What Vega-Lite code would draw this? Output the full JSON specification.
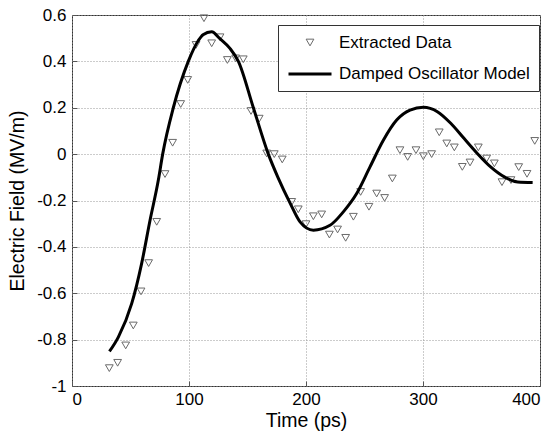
{
  "$schema": "https://vega.github.io/schema/vega-lite/v6.json",
  "width": 468,
  "height": 371,
  "autosize": {"type": "none"},
  "padding": {"left": 72, "top": 15, "right": 18, "bottom": 48},
  "background": "white",
  "config": {
    "font": "Liberation Sans",
    "view": {"stroke": "#333", "strokeWidth": 1},
    "axis": {
      "grid": true,
      "gridDash": [1, 2],
      "gridColor": "#999",
      "gridWidth": 1,
      "domain": false,
      "tickSize": -5,
      "tickColor": "#555",
      "labelFont": "Liberation Sans",
      "labelFontSize": 17,
      "labelColor": "#000",
      "titleFont": "Liberation Sans",
      "titleFontSize": 19.5,
      "titleFontWeight": "normal",
      "titleColor": "#000"
    }
  },
  "datasets": {
    "pts": [
      {"t": 31.9, "v": -0.923}, {"t": 39, "v": -0.9}, {"t": 45.9, "v": -0.825}, {"t": 52.4, "v": -0.739},
      {"t": 59, "v": -0.592}, {"t": 65.5, "v": -0.47}, {"t": 72.4, "v": -0.292}, {"t": 79.5, "v": -0.086},
      {"t": 86, "v": 0.049}, {"t": 92.9, "v": 0.216}, {"t": 98.9, "v": 0.32}, {"t": 106, "v": 0.471},
      {"t": 112.8, "v": 0.586}, {"t": 119.4, "v": 0.478}, {"t": 126.5, "v": 0.504}, {"t": 132.8, "v": 0.406},
      {"t": 139.9, "v": 0.413}, {"t": 146.4, "v": 0.409}, {"t": 153, "v": 0.186}, {"t": 160, "v": 0.153},
      {"t": 166.4, "v": 0.003}, {"t": 172.9, "v": 0}, {"t": 179.7, "v": -0.023}, {"t": 187.8, "v": -0.206},
      {"t": 193.4, "v": -0.238}, {"t": 200, "v": -0.302}, {"t": 206.3, "v": -0.268}, {"t": 213.4, "v": -0.26},
      {"t": 220, "v": -0.347}, {"t": 227, "v": -0.325}, {"t": 233.9, "v": -0.361}, {"t": 240.5, "v": -0.27},
      {"t": 246.7, "v": -0.163}, {"t": 253.8, "v": -0.227}, {"t": 260.4, "v": -0.17}, {"t": 267.2, "v": -0.189},
      {"t": 273.8, "v": -0.105}, {"t": 280.3, "v": 0.017}, {"t": 286.9, "v": -0.012}, {"t": 294, "v": 0.017},
      {"t": 300.3, "v": -0.009}, {"t": 307.4, "v": 0}, {"t": 313.9, "v": 0.094}, {"t": 320.3, "v": 0.046},
      {"t": 326.8, "v": 0.029}, {"t": 333.6, "v": -0.055}, {"t": 340.2, "v": -0.036}, {"t": 347.3, "v": 0.029},
      {"t": 354.4, "v": -0.019}, {"t": 361, "v": -0.04}, {"t": 367.5, "v": -0.121}, {"t": 375.2, "v": -0.112},
      {"t": 381.8, "v": -0.056}, {"t": 388.9, "v": -0.085}, {"t": 395.5, "v": 0.057}
    ],
    "model": [
      {"t": 32, "v": -0.851}, {"t": 39.6, "v": -0.789}, {"t": 51, "v": -0.645}, {"t": 59.5, "v": -0.472},
      {"t": 66.7, "v": -0.285}, {"t": 73.8, "v": -0.112}, {"t": 77.5, "v": 0}, {"t": 86.6, "v": 0.2},
      {"t": 99.4, "v": 0.4}, {"t": 108, "v": 0.49}, {"t": 112, "v": 0.515}, {"t": 119.4, "v": 0.528},
      {"t": 126, "v": 0.5}, {"t": 135, "v": 0.456}, {"t": 142.2, "v": 0.4}, {"t": 155, "v": 0.2},
      {"t": 167.8, "v": 0}, {"t": 176, "v": -0.1}, {"t": 186.3, "v": -0.21}, {"t": 194.9, "v": -0.292},
      {"t": 206.3, "v": -0.328}, {"t": 220.5, "v": -0.307}, {"t": 231.9, "v": -0.249}, {"t": 243.3, "v": -0.17},
      {"t": 254.7, "v": -0.055}, {"t": 266.1, "v": 0.06}, {"t": 277.5, "v": 0.147}, {"t": 288.9, "v": 0.19},
      {"t": 300.3, "v": 0.202}, {"t": 312.3, "v": 0.183}, {"t": 323.7, "v": 0.133}, {"t": 335, "v": 0.068},
      {"t": 346.4, "v": 0.003}, {"t": 357.8, "v": -0.055}, {"t": 369.5, "v": -0.098}, {"t": 380.9, "v": -0.12},
      {"t": 393.7, "v": -0.122}
    ]
  },
  "encoding": {
    "x": {
      "field": "t", "type": "quantitative",
      "scale": {"domain": [0, 400], "nice": false},
      "axis": {"title": "Time (ps)", "values": [0, 100, 200, 300, 400], "labelPadding": 10, "titlePadding": 4}
    },
    "y": {
      "field": "v", "type": "quantitative",
      "scale": {"domain": [-1, 0.6], "nice": false},
      "axis": {
        "title": "Electric Field (MV/m)",
        "values": [-1, -0.8, -0.6, -0.4, -0.2, 0, 0.2, 0.4, 0.6],
        "labelExpr": "datum.value == 0 ? '0' : toString(datum.value)",
        "labelPadding": 11,
        "titlePadding": 9
      }
    },
    "color": {
      "field": "series", "type": "nominal",
      "scale": {"domain": ["Extracted Data", "Damped Oscillator Model"], "range": ["#6a6a6a", "#000000"]},
      "legend": {
        "title": null,
        "orient": "none",
        "legendX": 206,
        "legendY": 10,
        "strokeColor": "#333",
        "fillColor": "white",
        "padding": 9,
        "labelFontSize": 17,
        "labelFont": "Liberation Sans",
        "labelColor": "#000",
        "labelLimit": 400,
        "labelOffset": 6,
        "rowPadding": 0
      }
    },
    "strokeWidth": {
      "field": "series", "type": "nominal",
      "scale": {"type": "ordinal", "domain": ["Extracted Data", "Damped Oscillator Model"], "range": [1, 3]},
      "legend": {"title": null}
    }
  },
  "layer": [
    {
      "data": {"name": "pts"},
      "transform": [{"calculate": "'Extracted Data'", "as": "series"}],
      "mark": {"type": "point", "filled": false, "opacity": 1},
      "encoding": {
        "shape": {
          "field": "series", "type": "nominal",
          "scale": {"domain": ["Extracted Data", "Damped Oscillator Model"], "range": ["triangle-down", "stroke"]},
          "legend": {"title": null}
        },
        "size": {
          "field": "series", "type": "nominal",
          "scale": {"type": "ordinal", "domain": ["Extracted Data", "Damped Oscillator Model"], "range": [60, 1849]},
          "legend": {"title": null}
        }
      }
    },
    {
      "data": {"name": "model"},
      "transform": [{"calculate": "'Damped Oscillator Model'", "as": "series"}],
      "mark": {"type": "line", "interpolate": "monotone"}
    }
  ]
}
